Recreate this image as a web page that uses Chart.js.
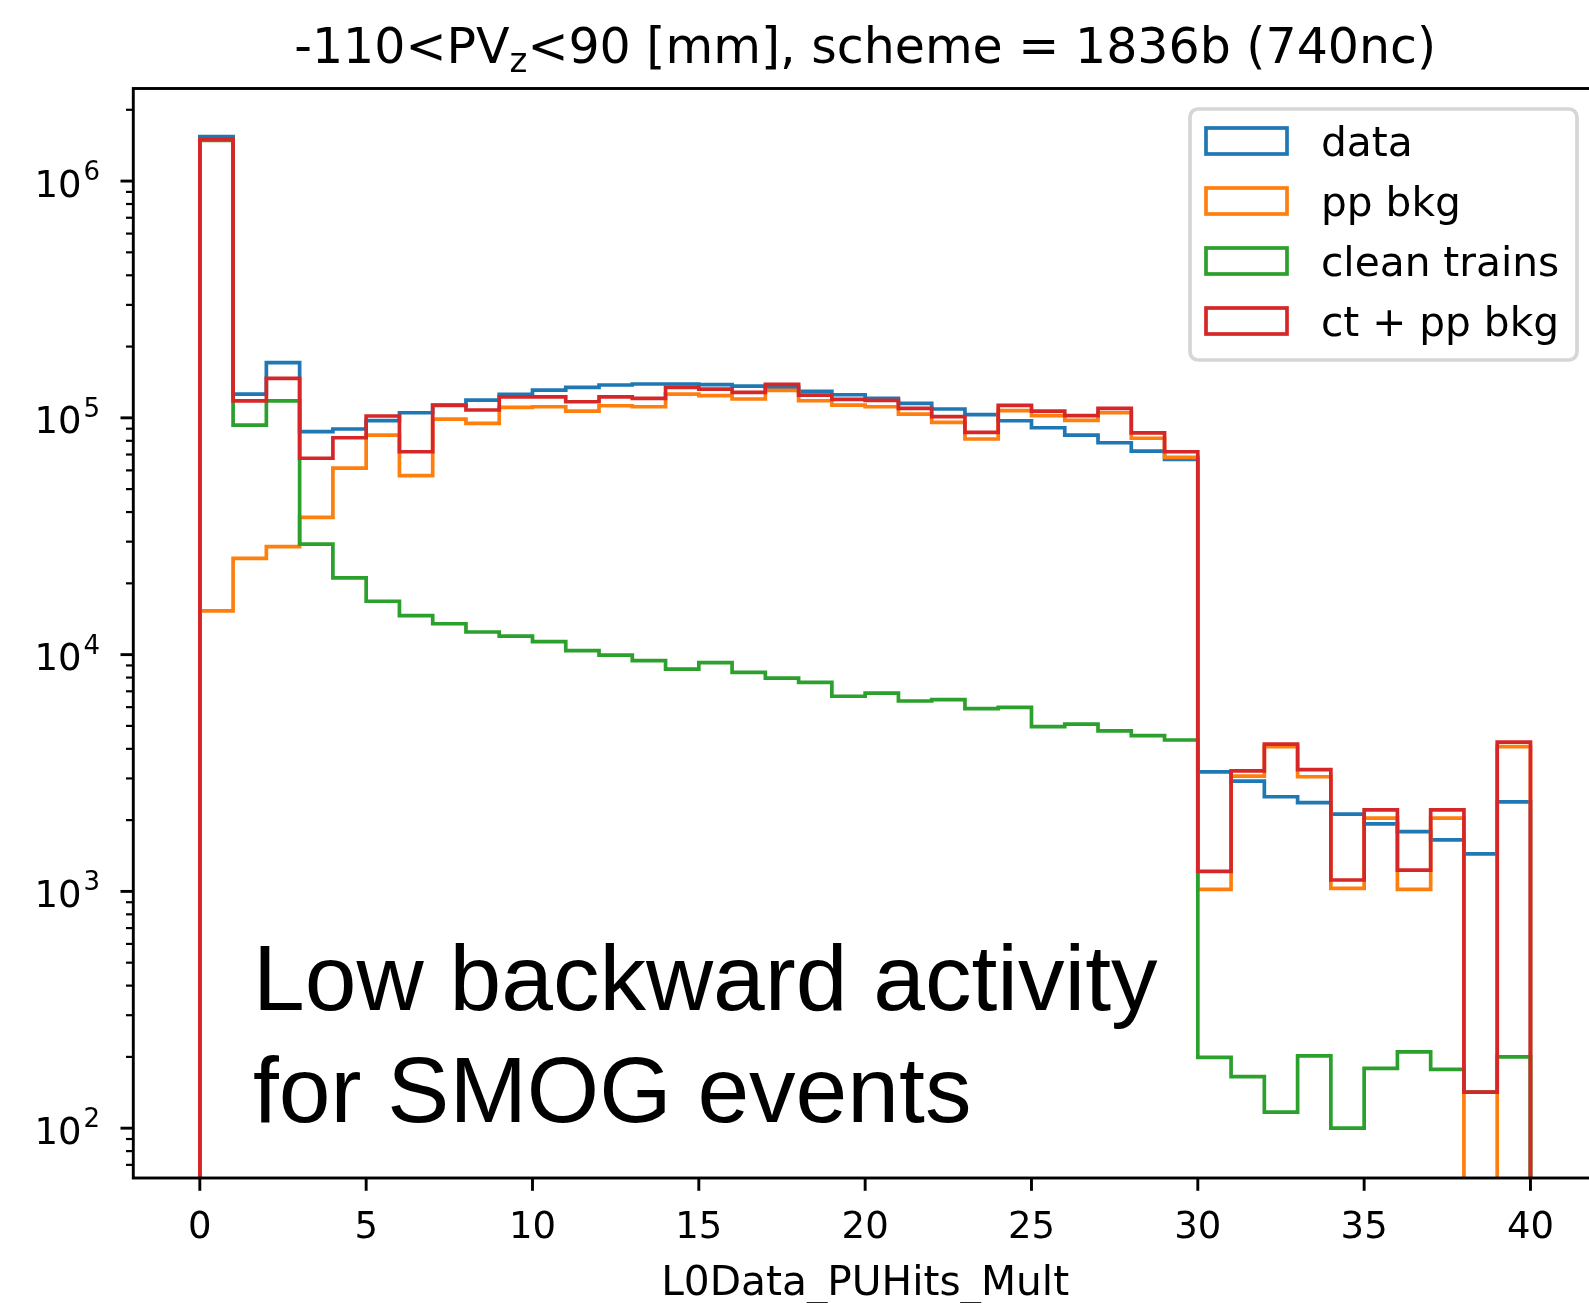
<!DOCTYPE html>
<html><head><meta charset="utf-8">
<script src="https://cdn.jsdelivr.net/npm/chart.js@4.4.1/dist/chart.umd.min.js"></script>
<style>html,body{margin:0;padding:0;background:#fff;overflow:hidden}canvas{display:block}</style>
</head><body>
<canvas id="c" width="1600" height="1303"></canvas>
<script>
// 40 unit-wide bins, counts
const binEdges = [0,1,2,3,4,5,6,7,8,9,10,11,12,13,14,15,16,17,18,19,20,21,22,23,24,25,26,27,28,29,30,31,32,33,34,35,36,37,38,39,40];
const dataCounts = [1540000,126000,171000,87400,89700,97400,105100,113200,118900,125700,131000,134500,137600,139000,139000,138000,136200,134500,129400,125200,120900,115100,109000,103100,97200,90800,84600,78500,72400,66800,3200,2920,2510,2370,2120,1930,1790,1650,1440,2390];
const ppBkg = [15300,25500,28600,38000,61300,84600,57000,98800,94800,110700,111400,106800,112500,111400,126000,124000,120100,130500,118100,113200,111400,103700,95700,81400,107200,102100,97600,105100,82000,68100,1020,3070,4090,3050,1030,2040,1020,2040,0,4090];
const cleanTrains = [1485000,93200,118000,29300,21100,16800,14600,13500,12460,11980,11340,10390,9960,9430,8690,9250,8420,7960,7640,6670,6880,6370,6450,5910,5990,4960,5090,4760,4550,4360,199,165,117,202,100,179,210,177,142,200];
const ctPlusPp = [1500000,118000,146800,67500,82400,101800,71900,113000,107900,122700,122700,116950,122700,120900,134500,132300,128100,138500,124800,119700,118500,109700,101100,86900,112900,106800,102100,109700,86400,71900,1215,3230,4190,3265,1117,2210,1230,2210,142,4270];

const seriesNames = ['data','pp bkg','clean trains','ct + pp bkg'];
const seriesColors = ['#1f77b4','#ff7f0e','#2ca02c','#d62728'];
const xTicks = [0,5,10,15,20,25,30,35,40];
const yDecades = [2,3,4,5,6];
const xRange = [-2,42];
const yRange = [61.6,2.46e6];
const titleParts = ['-110<PV','z','<90 [mm], scheme = 1836b (740nc)'];
const xLabel = 'L0Data_PUHits_Mult';
const noteLines = ['Low backward activity','for SMOG events'];

const FLOOR = 1; // empty bins / histogram ends fall below the axis and get clipped

function stepPoints(counts){
  const pts = [{x:binEdges[0], y:FLOOR}];
  counts.forEach((v,i)=>pts.push({x:binEdges[i], y:v>0?v:FLOOR}));
  pts.push({x:binEdges[counts.length], y:FLOOR});
  return pts;
}

const allCounts = [dataCounts, ppBkg, cleanTrains, ctPlusPp];
const datasets = allCounts.map((c,i)=>({
  label: seriesNames[i], data: stepPoints(c),
  borderColor: seriesColors[i], borderWidth: 3.7, stepped: 'before',
  pointRadius: 0, fill: false, clip: 0, order: 4-i
}));

const FONT = '"DejaVu Sans"';

const decor = {
  id: 'decor',
  afterDatasetsDraw(chart){
    const {ctx, chartArea:a, scales:{x,y}} = chart;
    ctx.save();
    ctx.strokeStyle = '#000'; ctx.fillStyle = '#000';
    // y ticks, major + minor
    for(let k=1;k<=6;k++) for(let m=1;m<=9;m++){
      const v = m*Math.pow(10,k);
      if(v<yRange[0]||v>yRange[1]) continue;
      const py = y.getPixelForValue(v), major = m===1;
      ctx.lineWidth = major?2.9:2.2;
      ctx.beginPath(); ctx.moveTo(a.left,py); ctx.lineTo(a.left-(major?12.8:7.3),py); ctx.stroke();
    }
    xTicks.forEach(t=>{
      const px = x.getPixelForValue(t);
      ctx.lineWidth = 2.9;
      ctx.beginPath(); ctx.moveTo(px,a.bottom); ctx.lineTo(px,a.bottom+12.8); ctx.stroke();
    });
    // frame
    ctx.lineWidth = 2.9;
    ctx.strokeRect(a.left, a.top, a.right-a.left, a.bottom-a.top);
    // tick labels
    ctx.font = '37px '+FONT; ctx.textAlign = 'center'; ctx.textBaseline = 'alphabetic';
    xTicks.forEach(t=>ctx.fillText(String(t), x.getPixelForValue(t), 1238));
    ctx.textAlign = 'right';
    yDecades.forEach(e=>{
      const py = y.getPixelForValue(Math.pow(10,e));
      ctx.font = '26px '+FONT;
      const ws = ctx.measureText(String(e)).width;
      ctx.fillText(String(e), 100, py-1);
      ctx.font = '37px '+FONT;
      ctx.fillText('10', 100-ws-2, py+15.5);
    });
    ctx.restore();
  },
  afterDraw(chart){
    const {ctx, chartArea:a} = chart;
    const cx = (a.left+a.right)/2;
    ctx.save();
    // title with subscript
    ctx.fillStyle = '#000'; ctx.textAlign = 'left'; ctx.textBaseline = 'alphabetic';
    ctx.font = '49px '+FONT; const w0 = ctx.measureText(titleParts[0]).width, w2 = ctx.measureText(titleParts[2]).width;
    ctx.font = '34px '+FONT; const w1 = ctx.measureText(titleParts[1]).width;
    let tx = cx-(w0+w1+w2)/2;
    ctx.font = '49px '+FONT; ctx.fillText(titleParts[0], tx, 63); tx += w0;
    ctx.font = '34px '+FONT; ctx.fillText(titleParts[1], tx, 72); tx += w1;
    ctx.font = '49px '+FONT; ctx.fillText(titleParts[2], tx, 63);
    // x label
    ctx.font = '40.7px '+FONT; ctx.textAlign = 'center';
    ctx.fillText(xLabel, cx, 1295);
    // annotation
    ctx.font = '93px "Liberation Sans"'; ctx.textAlign = 'left';
    ctx.fillText(noteLines[0], 253, 1009.5);
    ctx.fillText(noteLines[1], 253, 1122);
    // legend
    ctx.beginPath(); ctx.roundRect(1190,109,387,251,8);
    ctx.fillStyle = 'rgba(255,255,255,0.8)'; ctx.fill();
    ctx.lineWidth = 3.7; ctx.strokeStyle = 'rgba(204,204,204,0.8)'; ctx.stroke();
    ctx.font = '40.7px '+FONT; ctx.textAlign = 'left';
    seriesNames.forEach((n,i)=>{
      const cy = 141+60*i;
      ctx.strokeStyle = seriesColors[i]; ctx.lineWidth = 3.7;
      ctx.strokeRect(1206, cy-13, 81, 26);
      ctx.fillStyle = '#000'; ctx.fillText(n, 1321, cy+14.5);
    });
    ctx.restore();
  }
};

new Chart(document.getElementById('c'), {
  type: 'line',
  data: { datasets },
  options: {
    responsive: false, animation: false, devicePixelRatio: 1,
    layout: { padding: { top: 88.5, right: 3, left: 0, bottom: 0 } },
    plugins: { legend: { display: false }, tooltip: { enabled: false }, title: { display: false } },
    scales: {
      x: { type: 'linear', min: xRange[0], max: xRange[1],
           ticks: { display: false }, grid: { display: false }, border: { display: false },
           afterFit(s){ s.height = 125; } },
      y: { type: 'logarithmic', min: yRange[0], max: yRange[1],
           ticks: { display: false }, grid: { display: false }, border: { display: false },
           afterFit(s){ s.width = 133.3; } }
    }
  },
  plugins: [decor]
});
</script>
</body></html>
